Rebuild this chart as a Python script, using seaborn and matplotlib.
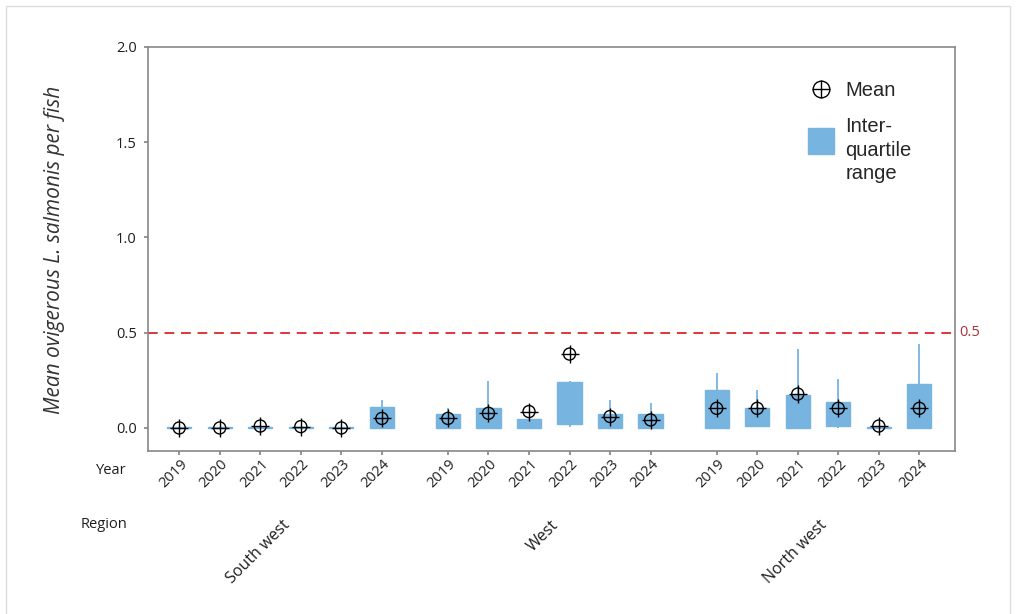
import matplotlib
matplotlib.use('Agg')
import matplotlib.pyplot as plt
import matplotlib.transforms as mtransforms
from matplotlib.lines import Line2D
from matplotlib.legend_handler import HandlerLine2D
from matplotlib.patches import Rectangle
import pandas as pd
import seaborn as sns

regions = ['South west', 'West', 'North west']
years = ['2019', '2020', '2021', '2022', '2023', '2024']

# mean per fish
mean_sw = [0.0, 0.0, 0.01, 0.007, 0.0, 0.05]
mean_w = [0.05, 0.077, 0.086, 0.388, 0.06, 0.042]
mean_nw = [0.103, 0.103, 0.178, 0.103, 0.01, 0.103]

# interquartile range
q1_sw = [0.0, 0.0, 0.0, 0.0, 0.0, 0.0]
q3_sw = [0.003, 0.003, 0.006, 0.005, 0.003, 0.112]
q1_w = [0.0, 0.0, 0.0, 0.021, 0.0, 0.0]
q3_w = [0.072, 0.105, 0.047, 0.24, 0.072, 0.072]
q1_nw = [0.0, 0.012, 0.0, 0.01, 0.0, 0.0]
q3_nw = [0.2, 0.105, 0.172, 0.138, 0.004, 0.231]

# whisker ends
lo_sw = [0.0, 0.0, 0.0, 0.0, 0.0, 0.0]
hi_sw = [0.003, 0.003, 0.006, 0.005, 0.003, 0.147]
lo_w = [0.0, 0.0, 0.0, 0.004, 0.0, 0.0]
hi_w = [0.103, 0.248, 0.047, 0.248, 0.147, 0.13]
lo_nw = [0.0, 0.004, 0.0, 0.0, 0.0, 0.0]
hi_nw = [0.29, 0.2, 0.415, 0.256, 0.004, 0.441]

threshold = 0.5

rows = []
for g, (reg, m, a, b, lo, hi) in enumerate([
        (regions[0], mean_sw, q1_sw, q3_sw, lo_sw, hi_sw),
        (regions[1], mean_w, q1_w, q3_w, lo_w, hi_w),
        (regions[2], mean_nw, q1_nw, q3_nw, lo_nw, hi_nw)]):
    for i, yr in enumerate(years):
        rows.append(dict(region=reg, year=yr, pos=g * 6.63 + i,
                         mean=m[i], q1=a[i], q3=b[i], lo=lo[i], hi=hi[i]))
df = pd.DataFrame(rows)


class RaisedHandler(HandlerLine2D):
    # legend marker drawn a bit above the centre of a multi-line label
    def create_artists(self, legend, orig_handle, xdescent, ydescent,
                       width, height, fontsize, trans):
        return super().create_artists(legend, orig_handle, xdescent,
                                      ydescent - 14.4, width, height,
                                      fontsize, trans)


sns.set_theme(style='white')
plt.rcParams['font.family'] = ['Open Sans', 'DejaVu Sans']

blue = '#78B4E0'
txt = '#1E1E1E'
fig = plt.figure(figsize=(10.16, 6.14), dpi=100)
ax = fig.add_axes([148 / 1016, 1 - 451 / 614, (955 - 148) / 1016, (451 - 47) / 614])

# boxes (IQR) and whiskers
ax.bar(df['pos'], df['q3'] - df['q1'], bottom=df['q1'], width=0.6,
       color=blue, edgecolor=blue, linewidth=1, zorder=2)
ax.vlines(df['pos'], df['q3'], df['hi'], color=blue, linewidth=1.3, zorder=2)
ax.vlines(df['pos'], df['lo'], df['q1'], color=blue, linewidth=1.3, zorder=2)

# mean markers: hollow circle with a cross
ax.scatter(df['pos'], df['mean'], s=75, facecolors='none', edgecolors='black',
           linewidths=1.0, zorder=4)
sns.scatterplot(data=df, x='pos', y='mean', marker='+', s=150, color='black',
                linewidth=1.0, zorder=5, ax=ax, legend=False)

ax.axhline(threshold, color='#D9373B', linestyle=(0, (5, 3.5)), linewidth=1.4, zorder=1)
ax.text(1.005, threshold, '0.5', transform=ax.get_yaxis_transform(),
        color='#A8323A', fontsize=10.5, va='center', ha='left')

ax.set_xlim(-0.77, 19.14)
ax.set_ylim(-0.121, 2.0)
ax.set_yticks([0, 0.5, 1.0, 1.5, 2.0])
ax.set_yticklabels(['0.0', '0.5', '1.0', '1.5', '2.0'], fontsize=10.5, color=txt)
ax.set_xticks(df['pos'])
ax.set_xticklabels(df['year'], rotation=45, ha='right', va='center',
                   rotation_mode='anchor', fontsize=10.5, color=txt)
ax.tick_params(axis='x', bottom=True, length=3, color='#888888', pad=5)
ax.tick_params(axis='y', left=True, length=3, color='#888888', pad=5)
shift = mtransforms.ScaledTranslation(6 / 100, 0, fig.dpi_scale_trans)
for lbl in ax.get_xticklabels():
    lbl.set_transform(lbl.get_transform() + shift)
ax.set_xlabel('')
ax.set_ylabel('')
for sp in ax.spines.values():
    sp.set_color('#888888')
    sp.set_linewidth(1.2)

# region labels
for g, reg in enumerate(regions):
    centre = df.loc[df['region'] == reg, 'pos'].mean()
    ax.annotate(reg, xy=(centre, 0), xycoords=('data', 'axes fraction'),
                xytext=(7, -72), textcoords='offset pixels', rotation=45,
                ha='right', va='center', rotation_mode='anchor',
                fontsize=11.5, color=txt, annotation_clip=False)

fig.text(127 / 1016, 1 - 470 / 614, 'Year', ha='right', va='center',
         fontsize=10.5, color=txt)
fig.text(127 / 1016, 1 - 524 / 614, 'Region', ha='right', va='center',
         fontsize=10.5, color=txt)
fig.text(55 / 1016, 1 - 250 / 614, 'Mean ovigerous L. salmonis per fish',
         rotation=90, ha='center', va='center', fontsize=15, style='italic',
         color='#333333')

# legend
mean_handle = (Line2D([], [], marker='o', linestyle='none', markersize=12,
                      markerfacecolor='none', markeredgecolor='black', markeredgewidth=1.0),
               Line2D([], [], marker='+', linestyle='none', markersize=13,
                      color='black', markeredgewidth=1.0))
iqr_handle = Line2D([], [], marker='s', linestyle='none', markersize=19,
                    markerfacecolor=blue, markeredgecolor=blue)
leg = ax.legend([mean_handle, iqr_handle], ['Mean', 'Inter-\nquartile\nrange'],
                loc='upper left', bbox_to_anchor=(803 / 1016, 1 - 81 / 614),
                bbox_transform=fig.transFigure, frameon=False, borderpad=0,
                borderaxespad=0, handlelength=1.8, handletextpad=0.3,
                labelspacing=0.85, prop={'family': 'Liberation Sans', 'size': 14.5},
                handler_map={iqr_handle: RaisedHandler()})
for t in leg.get_texts():
    t.set_linespacing(1.3)

fig.add_artist(Rectangle((6 / 1016, -0.1), (1010 - 6) / 1016, 1.1 - 6 / 614,
                         transform=fig.transFigure, fill=False,
                         edgecolor='#DDDDDD', linewidth=1))

fig.savefig('out.png', dpi=100)
